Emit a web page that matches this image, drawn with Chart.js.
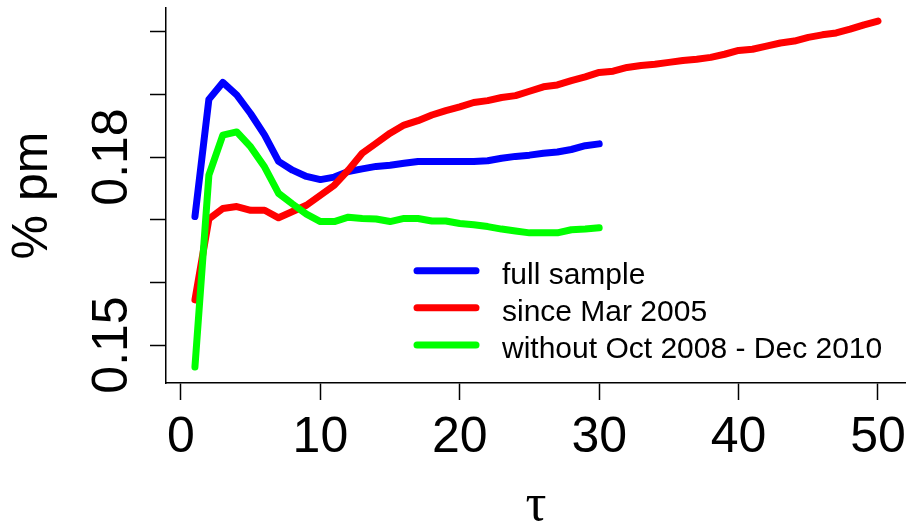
<!DOCTYPE html>
<html>
<head>
<meta charset="utf-8">
<script src="https://cdn.jsdelivr.net/npm/chart.js@4.4.1/dist/chart.umd.min.js"></script>
<style>
  html, body { margin: 0; padding: 0; background: #fff; }
  canvas { display: block; }
</style>
</head>
<body>
<canvas id="tauChart" width="906" height="529"></canvas>
<script>
// tau (months)
const tau = [1, 2, 3, 4, 5, 6, 7, 8, 9, 10, 11, 12, 13, 14, 15, 16, 17, 18, 19, 20,
             21, 22, 23, 24, 25, 26, 27, 28, 29, 30, 31, 32, 33, 34, 35, 36, 37, 38, 39, 40,
             41, 42, 43, 44, 45, 46, 47, 48, 49, 50];

const fullSample = [0.1705, 0.1892, 0.1919, 0.1899, 0.1869, 0.1835, 0.1793, 0.1779, 0.1769, 0.1764,
                    0.1768, 0.1777, 0.1781, 0.1785, 0.1787, 0.1790, 0.1793, 0.1793, 0.1793, 0.1793,
                    0.1793, 0.1794, 0.1798, 0.1801, 0.1803, 0.1806, 0.1808, 0.1812, 0.1818, 0.1821];

const sinceMar2005 = [0.1572, 0.1701, 0.1718, 0.1721, 0.1715, 0.1715, 0.1703, 0.1713, 0.1723, 0.1739,
                      0.1755, 0.1779, 0.1806, 0.1822, 0.1838, 0.1851, 0.1858, 0.1867, 0.1874, 0.1880,
                      0.1887, 0.1890, 0.1895, 0.1898, 0.1905, 0.1912, 0.1915, 0.1922, 0.1928, 0.1935,
                      0.1937, 0.1943, 0.1946, 0.1948, 0.1951, 0.1954, 0.1956, 0.1959, 0.1964, 0.1970,
                      0.1972, 0.1977, 0.1982, 0.1985, 0.1991, 0.1995, 0.1998, 0.2004, 0.2011, 0.2017];

const withoutCrisis = [0.1465, 0.1771, 0.1835, 0.1840, 0.1816, 0.1784, 0.1742, 0.1725, 0.1709, 0.1697,
                       0.1697, 0.1704, 0.1702, 0.1701, 0.1697, 0.1702, 0.1702, 0.1698, 0.1698, 0.1694,
                       0.1692, 0.1689, 0.1685, 0.1682, 0.1679, 0.1679, 0.1679, 0.1684, 0.1685, 0.1687];

const seriesLabels = ["full sample", "since Mar 2005", "without Oct 2008 - Dec 2010"];
const seriesColors = ["#0000ff", "#ff0000", "#00ff00"];

const xTicks = [0, 10, 20, 30, 40, 50];
const yTicks = [0.15, 0.16, 0.17, 0.18, 0.19, 0.20];
const yTickLabels = ["0.15", "", "", "0.18", "", ""]; // R drops the overlapping ones

const toPoints = (vals) => vals.map((v, i) => ({ x: tau[i], y: v }));

// R style texts + legend
const rTexts = {
    id: 'rTexts',
    afterDraw(chart) {
        const { ctx, scales: { x, y }, chartArea } = chart;
        ctx.save();
        ctx.fillStyle = '#000';
        ctx.font = '50px "Liberation Sans", Arial, sans-serif';
        ctx.textAlign = 'center';
        ctx.textBaseline = 'alphabetic';

        xTicks.forEach(v => {
            ctx.fillText(String(v), x.getPixelForValue(v), 452);
        });

        yTicks.forEach((v, i) => {
            if (!yTickLabels[i]) return;
            ctx.save();
            ctx.translate(127, y.getPixelForValue(v));
            ctx.rotate(-Math.PI / 2);
            ctx.fillText(yTickLabels[i], 0, 0);
            ctx.restore();
        });

        // axis titles
        ctx.save();
        ctx.translate(47, (chartArea.top + chartArea.bottom) / 2);
        ctx.rotate(-Math.PI / 2);
        ctx.fillText("% pm", 0, 0);
        ctx.restore();

        ctx.font = '52px "Liberation Serif", "DejaVu Serif", serif';
        ctx.fillText("τ", (chartArea.left + chartArea.right) / 2, 520);

        // legend
        ctx.font = '30px "Liberation Sans", Arial, sans-serif';
        ctx.textAlign = 'left';
        ctx.lineWidth = 7;
        ctx.lineCap = 'round';
        const legendY = [270.7, 307.7, 345];
        seriesLabels.forEach((lab, i) => {
            ctx.strokeStyle = seriesColors[i];
            ctx.beginPath();
            ctx.moveTo(417, legendY[i]);
            ctx.lineTo(476, legendY[i]);
            ctx.stroke();
            ctx.fillText(lab, 502, legendY[i] + 13);
        });
        ctx.restore();
    }
};

const ctx = document.getElementById('tauChart').getContext('2d');

const lineStyle = {
    borderWidth: 7,
    pointRadius: 0,
    tension: 0,
    fill: false,
    borderCapStyle: 'round',
    borderJoinStyle: 'round'
};

new Chart(ctx, {
    type: 'line',
    data: {
        datasets: [
            { label: seriesLabels[0], data: toPoints(fullSample), borderColor: seriesColors[0], order: 3, ...lineStyle },
            { label: seriesLabels[1], data: toPoints(sinceMar2005), borderColor: seriesColors[1], order: 2, ...lineStyle },
            { label: seriesLabels[2], data: toPoints(withoutCrisis), borderColor: seriesColors[2], order: 1, ...lineStyle }
        ]
    },
    options: {
        responsive: false,
        animation: false,
        devicePixelRatio: 1,
        layout: { padding: { top: 8, left: 0, right: 0, bottom: 0 } },
        plugins: {
            legend: { display: false },
            tooltip: { enabled: false }
        },
        events: [],
        scales: {
            x: {
                type: 'linear',
                min: -1.076,
                max: 52.01,
                afterBuildTicks: (scale) => { scale.ticks = xTicks.map(v => ({ value: v })); },
                afterFit: (scale) => { scale.height = 146; },
                ticks: { display: false },
                grid: { drawOnChartArea: false, drawTicks: true, tickLength: 17, tickColor: '#000', tickWidth: 1.5 },
                border: { display: true, color: '#000', width: 1.5 }
            },
            y: {
                type: 'linear',
                min: 0.14394,
                max: 0.20378,
                afterBuildTicks: (scale) => { scale.ticks = yTicks.map(v => ({ value: v })); },
                afterFit: (scale) => { scale.width = 166; },
                ticks: { display: false },
                grid: { drawOnChartArea: false, drawTicks: true, tickLength: 16, tickColor: '#000', tickWidth: 1.5 },
                border: { display: true, color: '#000', width: 1.5 }
            }
        }
    },
    plugins: [rTexts]
});
</script>
</body>
</html>
